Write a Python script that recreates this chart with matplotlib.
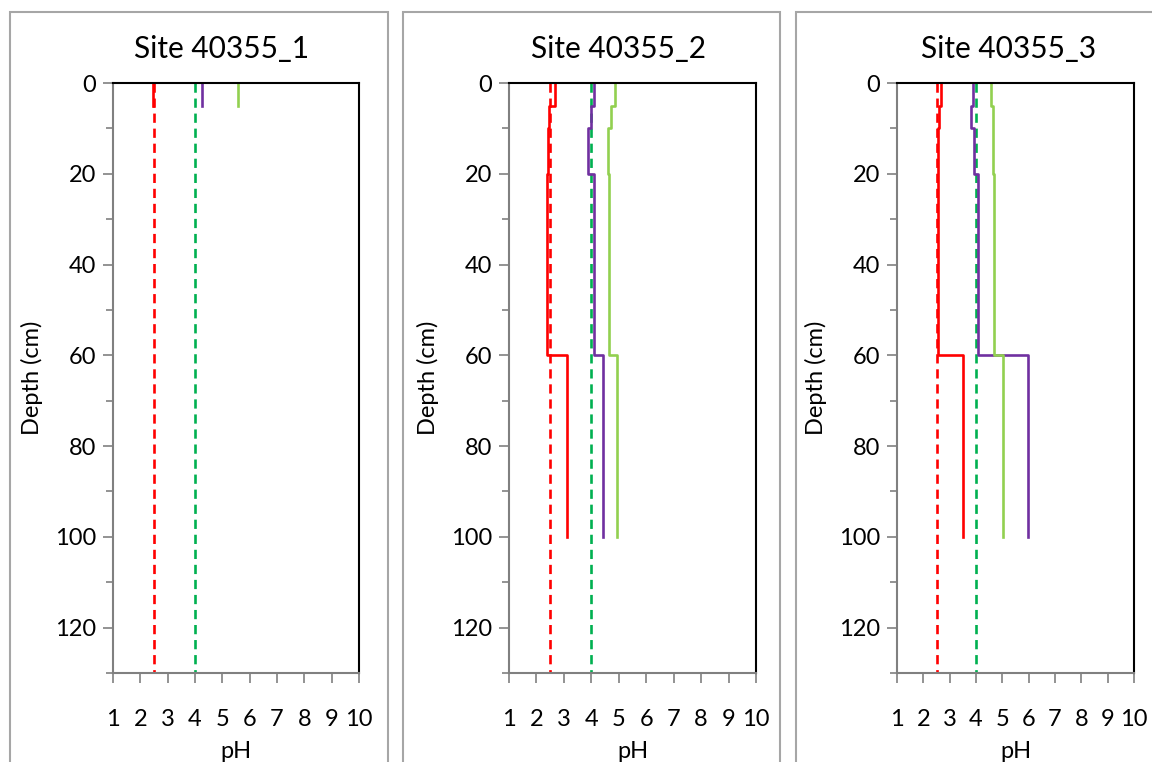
import numpy as np
import matplotlib.pyplot as plt
from matplotlib.patches import Rectangle

plt.rcParams['font.family'] = ['Lato', 'DejaVu Sans']

sites = ["Site 40355_1", "Site 40355_2", "Site 40355_3"]

# horizon boundaries (cm) for each site
depths = [
    [0, 5],
    [0, 5, 10, 20, 60, 100],
    [0, 5, 10, 20, 60, 100],
]

# pH per horizon
ph_red = [
    [2.45],
    [2.68, 2.45, 2.42, 2.4, 3.13],
    [2.66, 2.6, 2.57, 2.57, 3.52],
]
ph_purple = [
    [4.27],
    [4.1, 4.0, 3.87, 4.08, 4.42],
    [3.9, 3.81, 3.94, 4.07, 5.96],
]
ph_lightgreen = [
    [5.58],
    [4.87, 4.71, 4.62, 4.66, 4.95],
    [4.57, 4.64, 4.64, 4.7, 5.02],
]

red_limit = 2.5
green_limit = 4.0

# axes positions in pixels: left, right
ax_px = [(113, 359), (509, 756), (897, 1134)]
box_px = [(10, 388), (403, 780), (796, 1160)]
title_x = [0.443, 0.443, 0.47]
W, H = 1152, 762
top_px, bot_px = 83, 673


def step_xy(d, v):
    d = np.asarray(d)
    v = np.asarray(v)
    y = np.column_stack([d[:-1], d[1:]]).ravel()
    x = np.repeat(v, 2)
    return x, y


fig = plt.figure(figsize=(W / 100, H / 100), dpi=100)

for i in range(3):
    x0, x1 = box_px[i]
    fig.patches.append(Rectangle((x0 / W, -0.1), (x1 - x0) / W, 1.1 - 12 / H,
                                 transform=fig.transFigure, fill=False,
                                 edgecolor='#a6a6a6', linewidth=1.5))

    l, r = ax_px[i]
    ax = fig.add_axes([l / W, 1 - bot_px / H, (r - l) / W, (bot_px - top_px) / H])

    ax.plot([red_limit, red_limit], [0, 130], color='#ff0000', lw=1.9, ls=(0, (3.5, 2.2)))
    ax.plot([green_limit, green_limit], [0, 130], color='#00b050', lw=1.9, ls=(0, (3.5, 2.2)))

    for vals, c in [(ph_red, '#ff0000'), (ph_purple, '#7030a0'), (ph_lightgreen, '#92d050')]:
        x, y = step_xy(depths[i], vals[i])
        ax.plot(x, y, color=c, lw=1.9)

    ax.set_xlim(1, 10)
    ax.set_ylim(130, 0)
    ax.set_xticks(range(1, 11))
    ax.set_yticks(range(0, 121, 20))
    ax.set_yticks(range(10, 131, 20), minor=True)
    ax.tick_params(axis='both', labelsize=17, colors='#808080', labelcolor='black',
                   direction='out', length=7, width=1.2, pad=5)
    ax.tick_params(axis='y', which='minor', length=5, width=1.2, colors='#808080')
    ax.tick_params(axis='x', pad=19)
    for s in ['left', 'bottom']:
        ax.spines[s].set_color('#808080')
        ax.spines[s].set_linewidth(1.5)
    for s in ['top', 'right']:
        ax.spines[s].set_color('black')
        ax.spines[s].set_linewidth(1.5)

    ax.set_title(sites[i], fontsize=21.5, pad=18, x=title_x[i])
    ax.set_xlabel("pH", fontsize=17, labelpad=8)
    ax.set_ylabel("Depth (cm)", fontsize=17, labelpad=9)

fig.savefig("out.png", dpi=100)
